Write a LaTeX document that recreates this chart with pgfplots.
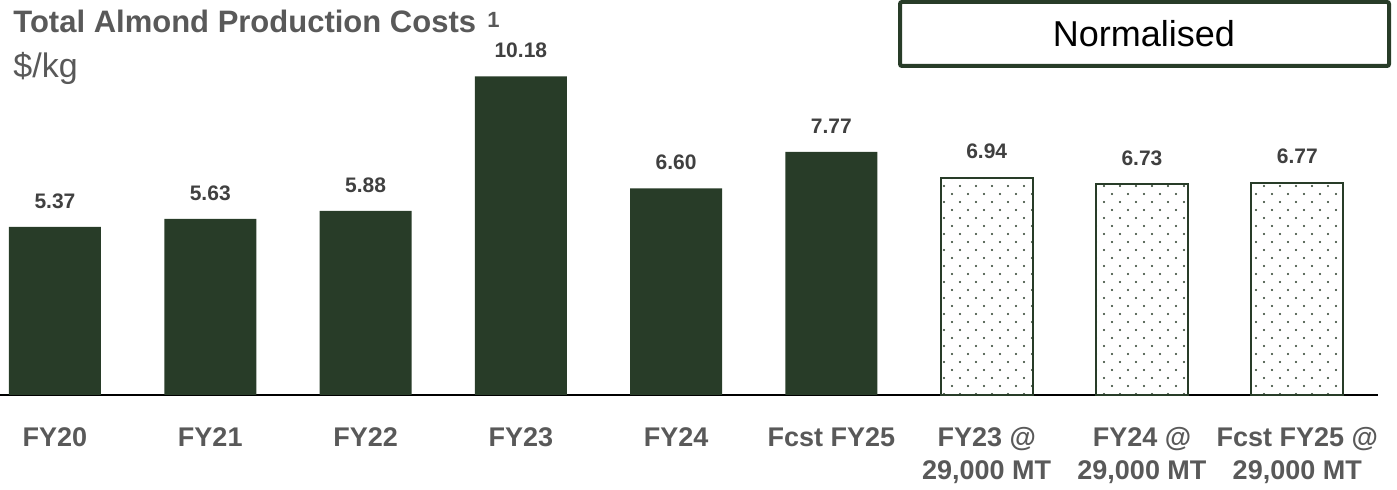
\documentclass[border=0pt]{standalone}
\usepackage{fontspec}
\setmainfont{Liberation Sans}
\usepackage{pgfplots}
\pgfplotsset{compat=1.18}
\usetikzlibrary{patterns.meta}
\definecolor{almond}{HTML}{283C28}
\definecolor{labgray}{HTML}{595959}
\definecolor{valgray}{HTML}{404040}
% staggered dot fill for the normalised bars
\tikzdeclarepattern{
  name=sdots,
  type=uncolored,
  bottom left={(-1pt,-1pt)},
  top right={(7pt,7pt)},
  tile size={(8pt,8pt)},
  code={
    \fill (0pt,0pt) circle (0.6pt);
    \fill (4pt,4pt) circle (0.6pt);
  }
}
\begin{document}
\begin{tikzpicture}
  \begin{axis}[
      at={(0,0)}, anchor=south west,
      scale only axis,
      width=689pt, height=197.5pt,
      xmin=-0.354, xmax=8.52,
      ymin=0, ymax=12.62,
      axis x line=bottom,
      axis y line=none,
      x axis line style={-, line width=1pt, black},
      xtick={0,...,8},
      major tick length=0pt,
      xticklabels={FY20, FY21, FY22, FY23, FY24, Fcst FY25,
        {FY23 @\\29,000 MT}, {FY24 @\\29,000 MT}, {Fcst FY25 @\\29,000 MT}},
      xticklabel style={font=\bfseries\fontsize{13.5}{16.5}\selectfont,
        text=labgray, align=center, anchor=north, inner sep=0pt, yshift=-16pt},
      /pgf/number format/assume math mode=true,
      nodes near coords={\pgfmathprintnumber[fixed, fixed zerofill, precision=2]{\pgfplotspointmeta}},
      every node near coord/.append style={font=\bfseries\fontsize{10.5}{12}\selectfont,
        text=valgray, anchor=south, inner sep=0pt, yshift=9pt},
      clip=false
    ]
    \addplot[ybar, bar width=46pt, bar shift=0pt, fill=almond, draw=none]
      coordinates {(0,5.37) (1,5.63) (2,5.88) (3,10.18) (4,6.60) (5,7.77)};
    \addplot[ybar, bar width=46pt, bar shift=0pt, draw=almond, line width=1pt,
        fill=white, postaction={pattern={sdots}, pattern color=almond}]
      coordinates {(6,6.94) (7,6.73) (8,6.77)};
  \end{axis}
  % title block
  \node[anchor=base west, inner sep=0pt, text=labgray,
        font=\bfseries\fontsize{15.5}{18}\selectfont] at (6.5pt,181pt)
        {Total Almond Production Costs};
  \node[anchor=base west, inner sep=0pt, text=labgray,
        font=\bfseries\fontsize{11}{12}\selectfont] at (243.5pt,183.5pt) {1};
  \node[anchor=base west, inner sep=0pt, text=labgray,
        font=\fontsize{17}{20}\selectfont] at (6.5pt,158.5pt) {\$/kg};
  % normalised box
  \draw[almond, line width=2pt, rounded corners=1pt, fill=white]
    (450pt,164.5pt) rectangle (694.5pt,196.5pt);
  \node[font=\fontsize{18}{21}\selectfont, text=black] at (572pt,180.5pt) {Normalised};
  \pgfresetboundingbox
  \useasboundingbox (0pt,-47.5pt) rectangle (698.5pt,197.5pt);
\end{tikzpicture}
\end{document}
